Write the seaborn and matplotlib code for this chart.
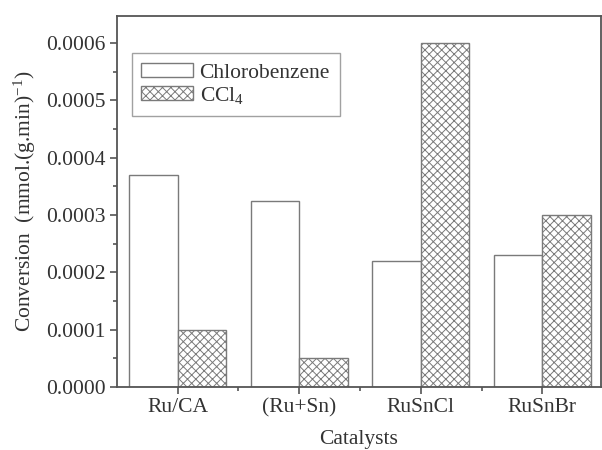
import matplotlib
matplotlib.use("Agg")
import matplotlib.pyplot as plt
from matplotlib.patches import Patch
from matplotlib.ticker import MultipleLocator, FixedLocator
import seaborn as sns
import pandas as pd

catalysts = ["Ru/CA", "(Ru+Sn)", "RuSnCl", "RuSnBr"]
chlorobenzene = [0.00037, 0.000325, 0.00022, 0.00023]
ccl4 = [0.00010, 0.00005, 0.00060, 0.00030]
series_names = ["Chlorobenzene", "CCl$_4$"]

df = pd.DataFrame({
    "Catalyst": catalysts * 2,
    "Conversion": chlorobenzene + ccl4,
    "Reactant": [series_names[0]] * len(catalysts) + [series_names[1]] * len(catalysts),
})

sns.set_style("ticks")
plt.rcParams["font.family"] = ["Liberation Serif", "DejaVu Serif"]
plt.rcParams["mathtext.fontset"] = "custom"
plt.rcParams["mathtext.rm"] = "Liberation Serif"
plt.rcParams["mathtext.it"] = "Liberation Serif"
plt.rcParams["hatch.color"] = "#6a6a6a"
plt.rcParams["hatch.linewidth"] = 0.7

edge = "#7a7a7a"
axis_col = "#555555"
text_col = "#333333"
fs = 15.5

fig = plt.figure(figsize=(6.02, 4.5), dpi=100)
ax = fig.add_axes([0.194, 0.14, 0.804, 0.824])

sns.barplot(data=df, x="Catalyst", y="Conversion", hue="Reactant",
            order=catalysts, hue_order=series_names, width=0.8, gap=0,
            ax=ax, legend=False, errorbar=None)

n = len(catalysts)
for i, bar in enumerate(ax.patches[:2 * n]):
    bar.set_facecolor("white")
    bar.set_edgecolor(edge)
    bar.set_linewidth(1.0)
    if i >= n:
        bar.set_hatch("xxxx")

ax.set_xlim(-0.5, 3.48)
ax.set_ylim(0, 0.000647)
ax.yaxis.set_major_locator(MultipleLocator(0.0001))
ax.yaxis.set_minor_locator(MultipleLocator(0.00005))
ax.set_yticklabels([f"{v:.4f}" for v in ax.get_yticks()])
ax.xaxis.set_minor_locator(FixedLocator([0.5, 1.5, 2.5]))

ax.tick_params(axis="both", which="major", direction="out", length=5, width=1.2,
               color=axis_col, labelsize=fs, labelcolor=text_col, pad=3)
ax.tick_params(axis="both", which="minor", direction="out", length=3, width=1.2,
               color=axis_col)
for s in ax.spines.values():
    s.set_visible(True)
    s.set_color(axis_col)
    s.set_linewidth(1.3)

ax.set_xlabel("Catalysts", fontsize=fs, color=text_col, labelpad=9)
ax.set_ylabel(r"Conversion  (mmol.(g.min)$^{\mathregular{-1}}$)", fontsize=fs,
              color=text_col, labelpad=6)

handles = [
    Patch(facecolor="white", edgecolor=edge, linewidth=1.0, label=series_names[0]),
    Patch(facecolor="white", edgecolor=edge, linewidth=1.0, hatch="xxxx", label=series_names[1]),
]
leg = ax.legend(handles=handles, loc="upper left", bbox_to_anchor=(0.031, 0.9),
                borderaxespad=0, fancybox=False, frameon=True, fontsize=fs,
                handlelength=2.4, handleheight=0.65, handletextpad=0.3,
                labelspacing=0.1, borderpad=0.45)
leg.get_frame().set_edgecolor("#8a8a8a")
leg.get_frame().set_linewidth(1.0)
for t in leg.get_texts():
    t.set_color(text_col)

fig.savefig("out.png", dpi=100)
